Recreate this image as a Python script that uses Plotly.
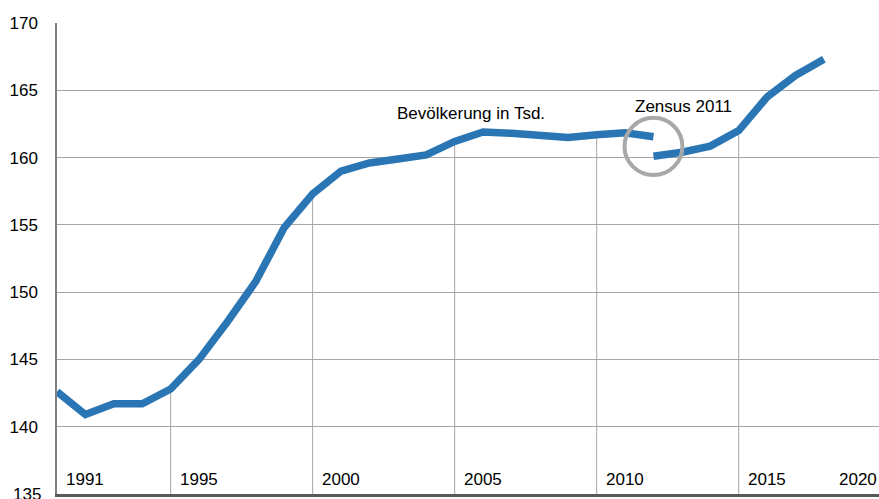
import plotly.graph_objects as go

# Data (population in thousands)
years_old = [1990, 1991, 1992, 1993, 1994, 1995, 1996, 1997, 1998, 1999, 2000,
             2001, 2002, 2003, 2004, 2005, 2006, 2007, 2008, 2009, 2010, 2011]
pop_old = [142.6, 140.9, 141.7, 141.7, 142.8, 145.0, 147.8, 150.8, 154.8, 157.3, 159.0,
           159.6, 159.9, 160.2, 161.2, 161.9, 161.8, 161.7, 161.5, 161.7, 161.85, 161.55]
years_new = [2011, 2012, 2013, 2014, 2015, 2016, 2017]
pop_new = [160.1, 160.4, 160.85, 162.0, 164.5, 166.1, 167.3]

x_labels = ["1991", "1995", "2000", "2005", "2010", "2015"]
x_label_pos = [1991, 1995, 2000, 2005, 2010, 2015]
last_label = "2020"
y_ticks = [140, 145, 150, 155, 160, 165, 170]
y_bottom_label = "135"

series_label = "Bevölkerung in Tsd."
census_label = "Zensus 2011"

FONT = "Arial, Liberation Sans, sans-serif"
BLUE = "#2a76b4"
GRID = "#a6a6a6"

fig = go.Figure()

# drop lines every 5 years starting 1994
drop_years = [y for y in years_old + years_new if (y - 1994) % 5 == 0]
allx = years_old[:-1] + years_new
ally = pop_old[:-1] + pop_new
shapes = []
for y in sorted(set(drop_years)):
    v = ally[allx.index(y)]
    shapes.append(dict(type="line", xref="x", yref="y", x0=y, x1=y, y0=135, y1=v,
                       line=dict(color=GRID, width=1), layer="below"))

# census circle
shapes.append(dict(type="circle", xref="x", yref="y", x0=2009.98, x1=2012.02,
                   y0=158.7, y1=162.95, line=dict(color="#a8a8a8", width=4),
                   layer="above"))

fig.add_trace(go.Scatter(x=years_old, y=pop_old, mode="lines",
                         line=dict(color=BLUE, width=7.5), hoverinfo="skip",
                         showlegend=False))
fig.add_trace(go.Scatter(x=years_new, y=pop_new, mode="lines",
                         line=dict(color=BLUE, width=7.5), hoverinfo="skip",
                         showlegend=False))

annotations = []
for lbl, pos in zip(x_labels, x_label_pos):
    annotations.append(dict(x=pos, y=135, xref="x", yref="y", text=lbl,
                            showarrow=False, xanchor="center", yanchor="bottom",
                            yshift=3, font=dict(family=FONT, size=17, color="#000")))
annotations.append(dict(x=1, y=135, xref="paper", yref="y", text=last_label,
                        showarrow=False, xanchor="right", yanchor="bottom",
                        yshift=3, font=dict(family=FONT, size=17, color="#000")))
annotations.append(dict(x=0, y=135, xref="paper", yref="y", text=y_bottom_label,
                        showarrow=False, xanchor="right", yanchor="middle",
                        xshift=-14, font=dict(family=FONT, size=17, color="#000")))
annotations.append(dict(x=2004.58, y=163.3, xref="x", yref="y", text=series_label,
                        showarrow=False, xanchor="center", yanchor="middle",
                        font=dict(family=FONT, size=17, color="#000")))
annotations.append(dict(x=2012.05, y=163.76, xref="x", yref="y", text=census_label,
                        showarrow=False, xanchor="center", yanchor="middle",
                        font=dict(family=FONT, size=17, color="#000")))

fig.update_layout(
    width=879, height=499,
    margin=dict(l=57, r=0, t=23, b=5),
    paper_bgcolor="white", plot_bgcolor="white",
    shapes=shapes, annotations=annotations,
    font=dict(family=FONT, size=17, color="#000"),
    xaxis=dict(range=[1990, 2018.94], showgrid=False, zeroline=False,
               showticklabels=False, ticks="",
               showline=True, linecolor="#595959", linewidth=2.5, mirror=False),
    yaxis=dict(range=[135, 170], tickvals=y_ticks, showgrid=True,
               gridcolor=GRID, gridwidth=1, zeroline=False, ticks="",
               showline=True, linecolor="#808080", linewidth=1.5,
               ticklabelstandoff=14,
               tickfont=dict(family=FONT, size=17, color="#000")),
)

fig.write_html("out.html",
               config={"displayModeBar": False},
               post_script="document.body.style.margin='0px';"
                           "document.body.style.overflow='hidden';")
